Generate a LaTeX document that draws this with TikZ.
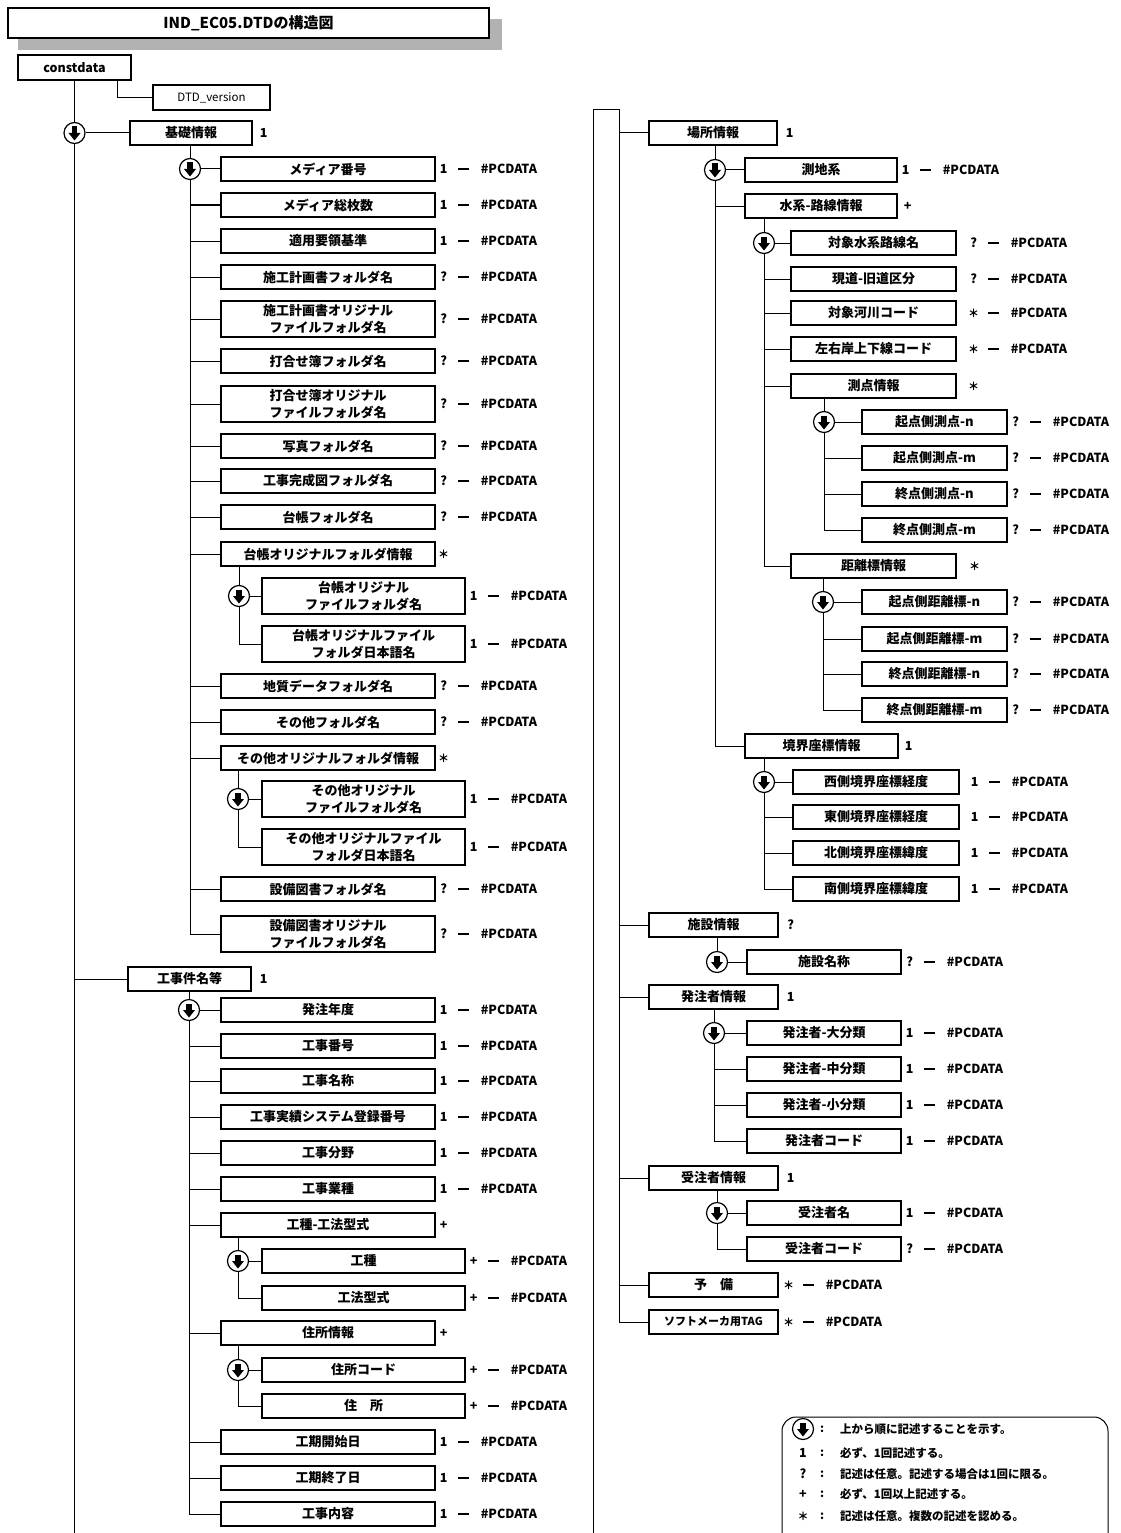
\documentclass[tikz,border=0pt]{standalone}
\usepackage{fontspec}
\setmainfont{Noto Sans CJK JP}
\usetikzlibrary{calc,positioning}
\definecolor{shadowgray}{RGB}{178,178,178}
\tikzset{
  elem/.style={draw, line width=1.2pt, minimum height=24pt, inner sep=1pt, align=center, font=\fontsize{13}{15}\selectfont\bfseries},
  tall/.style={minimum height=36pt, font=\fontsize{13}{17}\selectfont\bfseries},
  small/.style={minimum height=25pt, font=\fontsize{11.5}{13}\selectfont},
  link/.style={line width=1pt},
  seqmark/.style={circle, draw, fill=white, line width=1.2pt, minimum size=21pt, inner sep=0pt,
    path picture={
      \fill[black] ([xshift=-2.6pt,yshift=6.5pt]path picture bounding box.center) rectangle ([xshift=2.6pt,yshift=-1pt]path picture bounding box.center);
      \fill[black] ([xshift=-6pt]path picture bounding box.center) -- ([xshift=6pt]path picture bounding box.center) -- ([yshift=-7.5pt]path picture bounding box.center) -- cycle;
    }},
  mult/.style={inner sep=0pt, font=\fontsize{12.5}{14}\selectfont\bfseries},
  dashmark/.style={inner sep=0pt},
  pcdata/.style={anchor=west, inner sep=0pt, font=\fontsize{12.5}{14}\selectfont\bfseries},
  note/.style={anchor=west, inner sep=0pt, font=\fontsize{11.5}{13}\selectfont\bfseries}
}
\newcommand{\elem}[6][]{%
  % #1 extra style, #2 name, #3 left x, #4 right x, #5 centre y, #6 label
  \node[elem, #1, minimum width={#4-#3}] (#2) at ({(#3+#4)/2},#5) {#6};
}
\newcommand{\seq}[3]{%
  % #1 name, #2 x, #3 y
  \node[seqmark] (#1) at (#2,#3) {};
}
\newcommand{\pcd}[3][0]{%
  % #1 extra gap, #2 element, #3 multiplicity
  \node[mult] (#2m) at ([xshift={8+#1}]#2.east) {#3};
  \node[dashmark] (#2d) at ([xshift={28+#1}]#2.east) {\rule{11pt}{1.8pt}};
  \node[pcdata] (#2p) at ([xshift={45+#1}]#2.east) {\#PCDATA};
}
\newcommand{\onlymult}[3][0]{%
  % #1 extra gap, #2 element, #3 multiplicity
  \node[mult] (#2m) at ([xshift={8+#1}]#2.east) {#3};
}
\newcommand{\branch}[4]{%
  % #1 sequence mark, #2 parent, #3 first child, #4 other children
  \draw[link] (#1 |- #2.south) -- (#1);
  \draw[link] (#1) -- (#3);
  \foreach \c in {#4} \draw[link] (#1.south) |- (\c.west);
}
\newcommand{\anymark}{{\fontsize{11}{11}\selectfont ＊}}

\begin{document}
\begin{tikzpicture}[x=1pt,y=-1pt]
\useasboundingbox (0,0) rectangle (1120,1533);

% title
\fill[shadowgray] (18,19) rectangle (502,50);
\node[draw, fill=white, line width=1.2pt, minimum width=481pt, minimum height=30pt,
  font=\fontsize{15}{17}\selectfont\bfseries] (title) at (248.5,23) {IND\_EC05.DTDの構造図};

% =======================
% root
% =======================
\elem[small, font=\fontsize{12.5}{14}\selectfont\bfseries]{cd}{18}{131}{67.5}{constdata}
\elem[small]{dtd}{153}{270}{97.5}{DTD\_version}
\coordinate (cdend) at (74.5,1533);
\seq{s0}{74.5}{133}
\elem{kiso}{130}{252}{133}{基礎情報} \onlymult[3]{kiso}{1}
\elem{kouji}{128}{251}{979}{工事件名等} \onlymult[4]{kouji}{1}

\draw[link] ([xshift=43pt]cd.south) |- (dtd.west);
\draw[link] (cd) -- (s0);
\draw[link] (s0) -- (cdend);
\draw[link] (s0) -- (kiso);
\draw[link] (kouji.west) -- (kouji.west -| cdend);

% =======================
% 基礎情報
% =======================
\seq{s1}{190}{169}
\elem{k1}{221}{435}{169}{メディア番号} \pcd{k1}{1}
\elem{k2}{221}{435}{205}{メディア総枚数} \pcd{k2}{1}
\elem{k3}{221}{435}{241}{適用要領基準} \pcd{k3}{1}
\elem{k4}{221}{435}{277}{施工計画書フォルダ名} \pcd{k4}{?}
\elem[tall]{k5}{221}{435}{319}{施工計画書オリジナル\\ファイルフォルダ名} \pcd{k5}{?}
\elem{k6}{221}{435}{361}{打合せ簿フォルダ名} \pcd{k6}{?}
\elem[tall]{k7}{221}{435}{404}{打合せ簿オリジナル\\ファイルフォルダ名} \pcd{k7}{?}
\elem{k8}{221}{435}{446}{写真フォルダ名} \pcd{k8}{?}
\elem{k9}{221}{435}{481}{工事完成図フォルダ名} \pcd{k9}{?}
\elem{k10}{221}{435}{517}{台帳フォルダ名} \pcd{k10}{?}
\elem{k11}{221}{435}{554}{台帳オリジナルフォルダ情報} \onlymult{k11}{\anymark}
\seq{s11}{239}{596}
\elem[tall]{k11a}{262}{465}{596}{台帳オリジナル\\ファイルフォルダ名} \pcd{k11a}{1}
\elem[tall]{k11b}{262}{465}{644}{台帳オリジナルファイル\\フォルダ日本語名} \pcd{k11b}{1}
\elem{k12}{221}{435}{686}{地質データフォルダ名} \pcd{k12}{?}
\elem{k13}{221}{435}{722}{その他フォルダ名} \pcd{k13}{?}
\elem{k14}{221}{435}{758}{その他オリジナルフォルダ情報} \onlymult{k14}{\anymark}
\seq{s14}{238}{799}
\elem[tall]{k14a}{262}{465}{799}{その他オリジナル\\ファイルフォルダ名} \pcd{k14a}{1}
\elem[tall]{k14b}{262}{465}{847}{その他オリジナルファイル\\フォルダ日本語名} \pcd{k14b}{1}
\elem{k15}{221}{435}{889}{設備図書フォルダ名} \pcd{k15}{?}
\elem[tall]{k16}{221}{435}{934}{設備図書オリジナル\\ファイルフォルダ名} \pcd{k16}{?}

\branch{s1}{kiso}{k1}{k2,k3,k4,k5,k6,k7,k8,k9,k10,k11,k12,k13,k14,k15,k16}
\branch{s11}{k11}{k11a}{k11b}
\branch{s14}{k14}{k14a}{k14b}

% =======================
% 工事件名等
% =======================
\seq{s2}{189}{1010}
\elem{j1}{221}{435}{1010}{発注年度} \pcd{j1}{1}
\elem{j2}{221}{435}{1046}{工事番号} \pcd{j2}{1}
\elem{j3}{221}{435}{1081}{工事名称} \pcd{j3}{1}
\elem{j4}{221}{435}{1117}{工事実績システム登録番号} \pcd{j4}{1}
\elem{j5}{221}{435}{1153}{工事分野} \pcd{j5}{1}
\elem{j6}{221}{435}{1189}{工事業種} \pcd{j6}{1}
\elem{j7}{221}{435}{1225}{工種-工法型式} \onlymult{j7}{+}
\seq{s27}{238}{1261}
\elem{j7a}{262}{465}{1261}{工種} \pcd{j7a}{+}
\elem{j7b}{262}{465}{1298}{工法型式} \pcd{j7b}{+}
\elem{j8}{221}{435}{1333}{住所情報} \onlymult{j8}{+}
\seq{s28}{238}{1370}
\elem{j8a}{262}{465}{1370}{住所コード} \pcd{j8a}{+}
\elem{j8b}{262}{465}{1406}{住　所} \pcd{j8b}{+}
\elem{j9}{221}{435}{1442}{工期開始日} \pcd{j9}{1}
\elem{j10}{221}{435}{1478}{工期終了日} \pcd{j10}{1}
\elem{j11}{221}{435}{1514}{工事内容} \pcd{j11}{1}

\branch{s2}{kouji}{j1}{j2,j3,j4,j5,j6,j7,j8,j9,j10,j11}
\branch{s27}{j7}{j7a}{j7b}
\branch{s28}{j8}{j8a}{j8b}

% =======================
% 場所情報
% =======================
\elem{basho}{649}{777}{133}{場所情報} \onlymult[4]{basho}{1}
\seq{s3}{715}{170}
\elem{b1}{745}{897}{170}{測地系} \pcd{b1}{1}
\elem{b2}{745}{897}{206}{水系-路線情報} \onlymult[2]{b2}{+}
\seq{s32}{764}{243}
\elem{b21}{791}{956}{243}{対象水系路線名} \pcd[9]{b21}{?}
\elem{b22}{791}{956}{279}{現道-旧道区分} \pcd[9]{b22}{?}
\elem{b23}{791}{956}{313}{対象河川コード} \pcd[9]{b23}{\anymark}
\elem{b24}{791}{956}{349}{左右岸上下線コード} \pcd[9]{b24}{\anymark}
\elem{b25}{791}{956}{386}{測点情報} \onlymult[9]{b25}{\anymark}
\seq{s325}{824}{422}
\elem{b251}{862}{1007}{422}{起点側測点-n} \pcd{b251}{?}
\elem{b252}{862}{1007}{458}{起点側測点-m} \pcd{b252}{?}
\elem{b253}{862}{1007}{494}{終点側測点-n} \pcd{b253}{?}
\elem{b254}{862}{1007}{530}{終点側測点-m} \pcd{b254}{?}
\elem{b26}{791}{956}{566}{距離標情報} \onlymult[10]{b26}{\anymark}
\seq{s326}{823}{602}
\elem{b261}{862}{1007}{602}{起点側距離標-n} \pcd{b261}{?}
\elem{b262}{862}{1007}{639}{起点側距離標-m} \pcd{b262}{?}
\elem{b263}{862}{1007}{674}{終点側距離標-n} \pcd{b263}{?}
\elem{b264}{862}{1007}{710}{終点側距離標-m} \pcd{b264}{?}
\elem{b3}{745}{898}{746}{境界座標情報} \onlymult[2]{b3}{1}
\seq{s33}{764}{782}
\elem{b31}{793}{959}{782}{西側境界座標経度} \pcd[7]{b31}{1}
\elem{b32}{793}{959}{817}{東側境界座標経度} \pcd[7]{b32}{1}
\elem{b33}{793}{959}{853}{北側境界座標緯度} \pcd[7]{b33}{1}
\elem{b34}{793}{959}{889}{南側境界座標緯度} \pcd[7]{b34}{1}

\branch{s3}{basho}{b1}{b2,b3}
\branch{s32}{b2}{b21}{b22,b23,b24,b25,b26}
\branch{s325}{b25}{b251}{b252,b253,b254}
\branch{s326}{b26}{b261}{b262,b263,b264}
\branch{s33}{b3}{b31}{b32,b33,b34}

% =======================
% 施設・発注者・受注者ほか
% =======================
\elem{shisetsu}{649}{778}{925}{施設情報} \onlymult[4]{shisetsu}{?}
\seq{s4}{717}{962}
\elem{f1}{747}{901}{962}{施設名称} \pcd{f1}{?}
\elem{hatchu}{649}{778}{997}{発注者情報} \onlymult[4]{hatchu}{1}
\seq{s5}{714}{1033}
\elem{h1}{747}{901}{1033}{発注者-大分類} \pcd{h1}{1}
\elem{h2}{747}{901}{1069}{発注者-中分類} \pcd{h2}{1}
\elem{h3}{747}{901}{1105}{発注者-小分類} \pcd{h3}{1}
\elem{h4}{747}{901}{1141}{発注者コード} \pcd{h4}{1}
\elem{juchu}{649}{778}{1178}{受注者情報} \onlymult[4]{juchu}{1}
\seq{s6}{717}{1213}
\elem{u1}{747}{901}{1213}{受注者名} \pcd{u1}{1}
\elem{u2}{747}{901}{1249}{受注者コード} \pcd{u2}{?}
\elem{yobi}{649}{778}{1285}{予　備} \pcd[2]{yobi}{\anymark}
\elem[font=\fontsize{11}{13}\selectfont\bfseries]{tag}{649}{778}{1322}{ソフトメーカ用TAG} \pcd[2]{tag}{\anymark}

\branch{s4}{shisetsu}{f1}{}
\branch{s5}{hatchu}{h1}{h2,h3,h4}
\branch{s6}{juchu}{u1}{u2}

% page continuation of the root
\coordinate (c1) at (593,1533);
\coordinate (c2) at (593,110);
\coordinate (c3) at (619,110);
\draw[link] (c1) -- (c2) -- (c3) |- (tag.west);
\foreach \c in {basho,shisetsu,hatchu,juchu,yobi}
  \draw[link] (c3 |- \c.west) -- (\c.west);

% =======================
% legend
% =======================
\draw[line width=1pt, rounded corners=14pt] (782,1417) rectangle (1108,1570);
\seq{ls}{803}{1429}
\node[note] (lc0) at (820,1429) {:};
\node[note] (lt0) at (840,1429) {上から順に記述することを示す。};
\foreach \s/\t/\y/\n in {1/必ず、1回記述する。/1453/l1, ?/記述は任意。記述する場合は1回に限る。/1474/l2,
  +/必ず、1回以上記述する。/1494/l3, {\anymark}/記述は任意。複数の記述を認める。/1516/l4} {
  \node[mult] (\n s) at (803,\y) {\s};
  \node[note] (\n c) at (820,\y) {:};
  \node[note] (\n t) at (840,\y) {\t};
}

\end{tikzpicture}
\end{document}
